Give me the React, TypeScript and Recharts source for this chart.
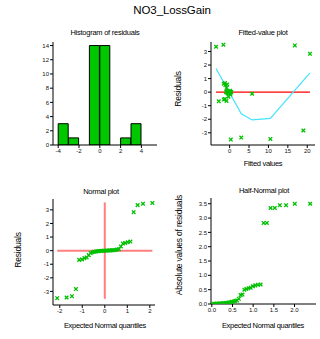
import { BarChart, Bar, ScatterChart, Scatter, XAxis, YAxis, ReferenceLine } from "recharts";

// residual histogram: bin start and count (bins are 1 unit wide)
const binStarts = [-4, -3, -2, -1, 0, 1, 2, 3];
const binCounts = [3, 1, 0, 14, 14, 0, 1, 3];

// one entry per observation
const fittedValues = [
  -3.5, -1.6, 16.8, 20.7, 0.3, 3.0, 10.5, 19.0, -2.8, -0.8, -1.5, -1.2,
  -0.3, 0.2, 5.8, -0.4, 0.0, -0.6, 0.3, -0.2, 0.1, -0.5, -0.9, 0.4,
  -0.1, -0.7, 0.2, -0.3, 0.0, -0.5, 0.1, -0.8, -1.1, -0.6, -1.5, -1.2,
];
const residuals = [
  3.35, 3.5, 3.45, 2.83, -3.5, -3.35, -3.45, -2.83, -0.68, -0.65, -0.55, -0.5,
  -0.33, -0.18, -0.12, -0.09, -0.06, -0.04, -0.03, -0.02, -0.01, -0.005, 0.0, 0.01,
  0.015, 0.02, 0.03, 0.035, 0.05, 0.08, 0.11, 0.31, 0.52, 0.57, 0.62, 0.67,
];

// smoother through the fitted-value plot
const smoothFitted = [-3.5, 3.0, 5.8, 10.5, 20.7];
const smoothResidual = [1.75, -1.6, -2.05, -1.93, 1.42];

// expected normal scores for ranks 1..36
const normalScores = [
  -2.114, -1.697, -1.458, -1.282, -1.138, -1.014, -0.905, -0.805, -0.713, -0.627, -0.544, -0.466,
  -0.39, -0.317, -0.245, -0.174, -0.104, -0.035, 0.035, 0.104, 0.174, 0.245, 0.317, 0.39,
  0.466, 0.544, 0.627, 0.713, 0.805, 0.905, 1.014, 1.138, 1.282, 1.458, 1.697, 2.114,
];
const halfNormalScores = [
  0.022, 0.056, 0.091, 0.126, 0.161, 0.196, 0.231, 0.266, 0.302, 0.339, 0.376, 0.413,
  0.451, 0.49, 0.53, 0.57, 0.611, 0.653, 0.696, 0.741, 0.787, 0.835, 0.886, 0.938,
  0.993, 1.051, 1.113, 1.18, 1.253, 1.332, 1.422, 1.524, 1.645, 1.796, 2.007, 2.38,
];

const histXTicks = [-4, -2, 0, 2, 4];
const histYTicks = [0, 2, 4, 6, 8, 10, 12, 14];
const fittedXTicks = [0, 5, 10, 15, 20];
const residualTicks = [-3, -2, -1, 0, 1, 2, 3];
const normalXTicks = [-2, -1, 0, 1, 2];
const halfXTicks = [0, 0.5, 1, 1.5, 2];
const halfYTicks = [0, 0.5, 1, 1.5, 2, 2.5, 3, 3.5];

const W = 320;
const H = 339;
const GREEN = "#00c000";
const Y_W = 30;
const X_H = 20;

const histData = binStarts.map((b, i) => ({ mid: b + 0.5, count: binCounts[i] }));
const fittedData = fittedValues.map((f, i) => ({ x: f, y: residuals[i] }));
const smoothData = smoothFitted.map((f, i) => ({ x: f, y: smoothResidual[i] }));
const sortedRes = [...residuals].sort((a, b) => a - b);
const normalData = sortedRes.map((r, i) => ({ x: normalScores[i], y: r }));
const sortedAbs = residuals.map(Math.abs).sort((a, b) => a - b);
const halfData = sortedAbs.map((r, i) => ({ x: halfNormalScores[i], y: r }));

// plot rectangle -> chart margins (every chart covers the whole page)
function frame(x0: number, y0: number, x1: number, y1: number) {
  return { left: x0 - Y_W, top: y0, right: W - x1, bottom: H - y1 - X_H };
}

const tickStyle = { fontSize: 6, fill: "#111" };
const axisProps = {
  tick: tickStyle,
  tickSize: 3,
  tickMargin: 1,
  axisLine: { stroke: "#000" },
  tickLine: { stroke: "#000" },
};

function Cross(props: any) {
  const { cx, cy } = props;
  const s = 1.8;
  return (
    <path
      d={`M${cx - s},${cy - s}L${cx + s},${cy + s}M${cx - s},${cy + s}L${cx + s},${cy - s}`}
      stroke={GREEN}
      strokeWidth={1.3}
    />
  );
}

const NoDot = () => <g />;

const layer: React.CSSProperties = { position: "absolute", left: 0, top: 0 };

export default function App() {
  const fMin = Math.min(...fittedValues);
  const fMax = Math.max(...fittedValues);
  const rMin = Math.min(...residuals);
  const rMax = Math.max(...residuals);
  return (
    <div
      style={{
        position: "fixed",
        left: 0,
        top: 0,
        width: W,
        height: H,
        background: "#fff",
        fontFamily: '"Liberation Sans", Arial, sans-serif',
      }}
    >
      <div style={layer}>
        <BarChart width={W} height={H} data={histData} margin={frame(53, 42, 157, 145)} barCategoryGap={0} barGap={0}>
          <XAxis type="number" dataKey="mid" domain={[-4.5, 5.5]} ticks={histXTicks} height={X_H} allowDataOverflow {...axisProps} />
          <YAxis type="number" domain={[0, 14.5]} ticks={histYTicks} width={Y_W} allowDataOverflow {...axisProps} />
          <Bar dataKey="count" fill="#00c800" stroke="#000" strokeWidth={1} isAnimationActive={false} />
        </BarChart>
      </div>

      <div style={layer}>
        <ScatterChart width={W} height={H} margin={frame(211, 42, 315, 145)}>
          <XAxis type="number" dataKey="x" domain={[-4.8, 22]} ticks={fittedXTicks} height={X_H} allowDataOverflow {...axisProps} />
          <YAxis type="number" dataKey="y" domain={[-3.9, 3.7]} ticks={residualTicks} width={Y_W} allowDataOverflow {...axisProps} />
          <ReferenceLine segment={[{ x: fMin, y: 0 }, { x: fMax, y: 0 }]} stroke="#ff0000" strokeWidth={1.2} />
          <Scatter data={smoothData} line={{ stroke: "#40e4ff", strokeWidth: 1.2 }} shape={NoDot} isAnimationActive={false} />
          <Scatter data={fittedData} shape={Cross} isAnimationActive={false} />
        </ScatterChart>
      </div>

      <div style={layer}>
        <ScatterChart width={W} height={H} margin={frame(53, 199, 155, 305)}>
          <XAxis type="number" dataKey="x" domain={[-2.3, 2.23]} ticks={normalXTicks} height={X_H} allowDataOverflow {...axisProps} />
          <YAxis type="number" dataKey="y" domain={[-4, 3.8]} ticks={residualTicks} width={Y_W} allowDataOverflow {...axisProps} />
          <ReferenceLine segment={[{ x: normalScores[0], y: 0 }, { x: normalScores[35], y: 0 }]} stroke="#ff7f7f" strokeWidth={2} />
          <ReferenceLine segment={[{ x: 0, y: rMin - 0.05 }, { x: 0, y: rMax + 0.05 }]} stroke="#ff7f7f" strokeWidth={2} />
          <Scatter data={normalData} shape={Cross} isAnimationActive={false} />
        </ScatterChart>
      </div>

      <div style={layer}>
        <ScatterChart width={W} height={H} margin={frame(211, 198, 316, 304)}>
          <XAxis type="number" dataKey="x" domain={[-0.02, 2.52]} ticks={halfXTicks} tickFormatter={(v: number) => v.toFixed(1)} height={X_H} allowDataOverflow {...axisProps} />
          <YAxis type="number" dataKey="y" domain={[0, 3.7]} ticks={halfYTicks} tickFormatter={(v: number) => v.toFixed(1)} width={Y_W} allowDataOverflow {...axisProps} />
          <Scatter data={halfData} shape={Cross} isAnimationActive={false} />
        </ScatterChart>
      </div>

      <svg width={W} height={H} style={{ ...layer, pointerEvents: "none" }}>
        <g fill="#000" textAnchor="middle">
          <text x={172} y={14} fontSize={11.5} letterSpacing={-0.1}>NO3_LossGain</text>

          <text x={105} y={34.5} fontSize={7.5} letterSpacing={-0.25}>Histogram of residuals</text>
          <text x={263} y={34.5} fontSize={7.5} letterSpacing={-0.25}>Fitted-value plot</text>
          <text x={101} y={193.5} fontSize={7.5} letterSpacing={-0.25}>Normal plot</text>
          <text x={264} y={193} fontSize={7.5} letterSpacing={-0.25}>Half-Normal plot</text>

          <text x={263} y={166} fontSize={7.5} letterSpacing={-0.3}>Fitted values</text>
          <text x={105} y={328} fontSize={7.5} letterSpacing={-0.3}>Expected Normal quantiles</text>
          <text x={263} y={328} fontSize={7.5} letterSpacing={-0.3}>Expected Normal quantiles</text>

          <text transform="translate(181.3,89) rotate(-90)" fontSize={8.5} letterSpacing={-0.2}>Residuals</text>
          <text transform="translate(21.3,250) rotate(-90)" fontSize={8.5} letterSpacing={-0.2}>Residuals</text>
          <text transform="translate(182,245) rotate(-90)" fontSize={8.5} letterSpacing={-0.2}>Absolute values of residuals</text>
        </g>
      </svg>
    </div>
  );
}
